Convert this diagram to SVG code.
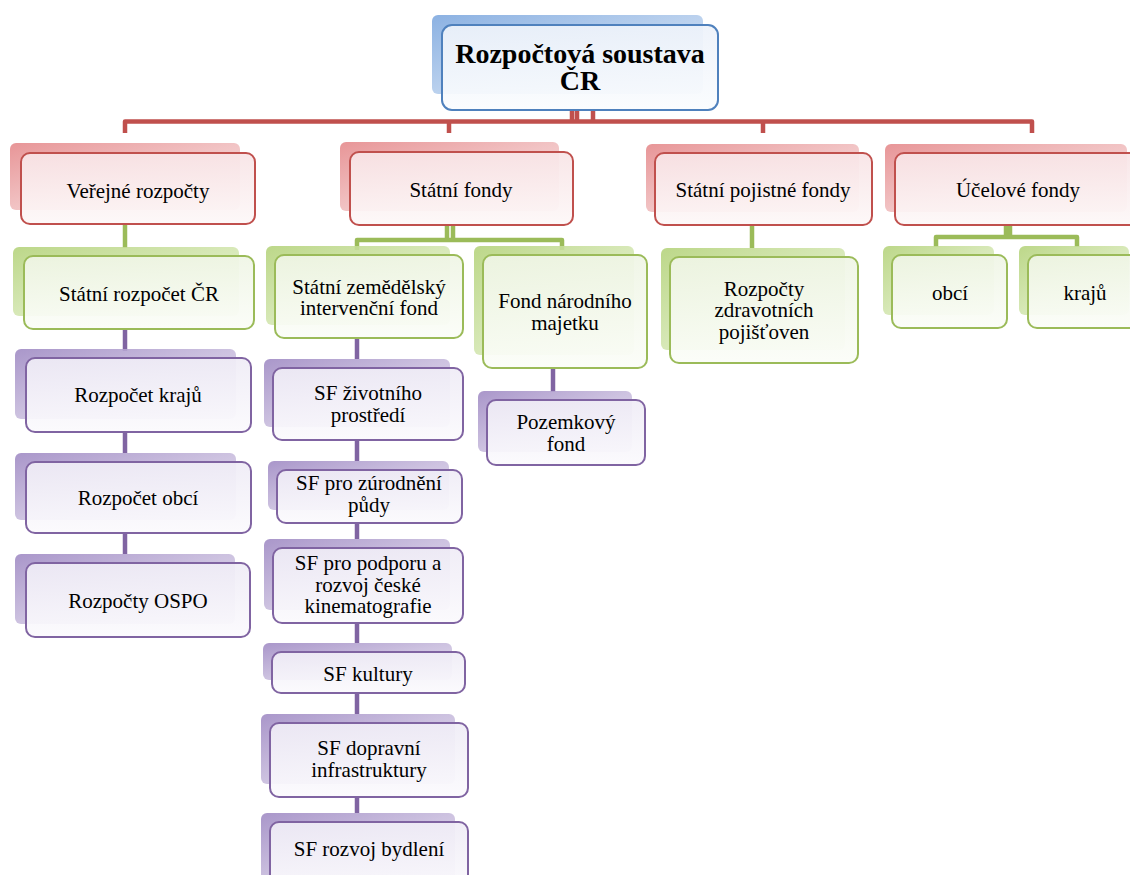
<svg xmlns="http://www.w3.org/2000/svg" width="1130" height="875" viewBox="0 0 1130 875">
<defs>
<linearGradient id="bkR" x1="0" y1="0" x2="1" y2="1"><stop offset="0" stop-color="#E58A8C"/><stop offset="0.5" stop-color="#F0BDBE"/><stop offset="1" stop-color="#F8E0E0"/></linearGradient>
<linearGradient id="bkG" x1="0" y1="0" x2="1" y2="1"><stop offset="0" stop-color="#B5D37C"/><stop offset="0.5" stop-color="#D3E6B0"/><stop offset="1" stop-color="#EAF3DA"/></linearGradient>
<linearGradient id="bkP" x1="0" y1="0" x2="1" y2="1"><stop offset="0" stop-color="#A08BC4"/><stop offset="0.5" stop-color="#C8BCDD"/><stop offset="1" stop-color="#E4DEEF"/></linearGradient>
<linearGradient id="bkB" x1="0" y1="0" x2="1" y2="1"><stop offset="0" stop-color="#7FA9DF"/><stop offset="0.5" stop-color="#B3CCEC"/><stop offset="1" stop-color="#DCE7F5"/></linearGradient>
<linearGradient id="frR" x1="0" y1="0" x2="0" y2="1"><stop offset="0" stop-color="#F8E4E6"/><stop offset="1" stop-color="#FDF8F8"/></linearGradient>
<linearGradient id="frG" x1="0" y1="0" x2="0" y2="1"><stop offset="0" stop-color="#EFF5E5"/><stop offset="1" stop-color="#FBFDF8"/></linearGradient>
<linearGradient id="frP" x1="0" y1="0" x2="0" y2="1"><stop offset="0" stop-color="#EFECF6"/><stop offset="1" stop-color="#FBFAFD"/></linearGradient>
<linearGradient id="frB" x1="0" y1="0" x2="0" y2="1"><stop offset="0" stop-color="#EDF2FA"/><stop offset="1" stop-color="#FAFCFE"/></linearGradient>
</defs>
<style>
.bk{opacity:0.9}
.r .bk{fill:url(#bkR)} .g .bk{fill:url(#bkG)} .p .bk{fill:url(#bkP)} .b .bk{fill:url(#bkB)}
.fr{stroke-width:2;fill-opacity:0.93}
.r .fr{fill:url(#frR);stroke:#C0504D} .g .fr{fill:url(#frG);stroke:#9BBB59} .p .fr{fill:url(#frP);stroke:#8064A2} .b .fr{fill:url(#frB);stroke:#4F81BD}
text{font-family:"Liberation Serif","Times New Roman",serif;font-size:21px;fill:#000;text-anchor:middle}
.title{font-size:28px;font-weight:bold}
.c{fill:none;stroke-width:4.5;stroke-linejoin:round}
.cr{stroke:#C0504D} .cg{stroke:#9BBB59} .cp{stroke:#8064A2}
</style>
<rect width="1130" height="875" fill="#FFFFFF"/>
<g id="connectors">
<path class="c cr" d="M572 110V121.5M577 110V121.5M593 110V121.5M125 133V121.5H1032V133M449 121.5V133M763 121.5V133"/>
<path class="c cg" d="M125 224V248"/>
<path class="c cg" d="M447 225V240M453 225V240M357 250V240H562V250"/>
<path class="c cg" d="M752 225V248"/>
<path class="c cg" d="M1006 225V237M1010 225V237M936 247V237H1077V247"/>
<path class="c cp" d="M125 329V351M125 432V453M125 533V554"/>
<path class="c cp" d="M357 338V359M357 440V461M357 523V539M357 623V643M357 693V714M357 797V813"/>
<path class="c cp" d="M553 368V392"/>
</g>
<g id="n-top" class="b"><rect class="bk" x="432" y="15" width="271" height="79" rx="6"/><rect class="fr" x="442" y="25" width="276" height="85" rx="10"/><text class="title" x="580" y="63">Rozpočtová soustava<tspan x="580" y="90">ČR</tspan></text></g>
<g id="n-verejne" class="r"><rect class="bk" x="10" y="143" width="230" height="67" rx="6"/><rect class="fr" x="21" y="153" width="234" height="71" rx="9"/><text x="138" y="198">Veřejné rozpočty</text></g>
<g id="n-statni-fondy" class="r"><rect class="bk" x="340" y="142" width="219" height="69" rx="6"/><rect class="fr" x="350" y="152" width="223" height="73" rx="9"/><text x="461" y="197">Státní fondy</text></g>
<g id="n-pojistne" class="r"><rect class="bk" x="646" y="144" width="213" height="68" rx="6"/><rect class="fr" x="655" y="153" width="217" height="72" rx="9"/><text x="763" y="197">Státní pojistné fondy</text></g>
<g id="n-ucelove" class="r"><rect class="bk" x="885" y="144" width="242" height="68" rx="6"/><rect class="fr" x="895" y="153" width="246" height="72" rx="9"/><text x="1018" y="197">Účelové fondy</text></g>
<g id="n-sr" class="g"><rect class="bk" x="13" y="247" width="226" height="69" rx="6"/><rect class="fr" x="24" y="256" width="230" height="73" rx="9"/><text x="139" y="301">Státní rozpočet ČR</text></g>
<g id="n-kraje" class="p"><rect class="bk" x="15" y="349" width="221" height="70" rx="6"/><rect class="fr" x="26" y="358" width="225" height="74" rx="9"/><text x="138" y="402">Rozpočet krajů</text></g>
<g id="n-obce" class="p"><rect class="bk" x="15" y="453" width="221" height="67" rx="6"/><rect class="fr" x="26" y="462" width="225" height="71" rx="9"/><text x="138" y="505">Rozpočet obcí</text></g>
<g id="n-ospo" class="p"><rect class="bk" x="15" y="554" width="220" height="70" rx="6"/><rect class="fr" x="26" y="563" width="224" height="74" rx="9"/><text x="138" y="608">Rozpočty OSPO</text></g>
<g id="n-szif" class="g"><rect class="bk" x="266" y="246" width="184" height="79" rx="6"/><rect class="fr" x="275" y="255" width="188" height="83" rx="9"/><text x="369" y="294">Státní zemědělský<tspan x="369" y="315">intervenční fond</tspan></text></g>
<g id="n-fnm" class="g"><rect class="bk" x="474" y="246" width="160" height="109" rx="6"/><rect class="fr" x="483" y="255" width="164" height="113" rx="9"/><text x="565" y="308">Fond národního<tspan x="565" y="330">majetku</tspan></text></g>
<g id="n-pozemkovy" class="p"><rect class="bk" x="478" y="391" width="154" height="61" rx="6"/><rect class="fr" x="487" y="400" width="158" height="65" rx="9"/><text x="566" y="429">Pozemkový<tspan x="566" y="451">fond</tspan></text></g>
<g id="n-zivotni" class="p"><rect class="bk" x="264" y="359" width="186" height="68" rx="6"/><rect class="fr" x="273" y="368" width="190" height="72" rx="9"/><text x="368" y="400">SF životního<tspan x="368" y="422">prostředí</tspan></text></g>
<g id="n-zurodneni" class="p"><rect class="bk" x="268" y="461" width="181" height="49" rx="6"/><rect class="fr" x="277" y="470" width="185" height="53" rx="9"/><text x="369" y="490">SF pro zúrodnění<tspan x="369" y="512">půdy</tspan></text></g>
<g id="n-kinematografie" class="p"><rect class="bk" x="264" y="539" width="186" height="71" rx="6"/><rect class="fr" x="273" y="548" width="190" height="75" rx="9"/><text x="368" y="570">SF pro podporu a<tspan x="368" y="592">rozvoj české</tspan><tspan x="368" y="613">kinematografie</tspan></text></g>
<g id="n-kultury" class="p"><rect class="bk" x="263" y="643" width="189" height="37" rx="6"/><rect class="fr" x="272" y="652" width="193" height="41" rx="9"/><text x="368" y="681">SF kultury</text></g>
<g id="n-doprava" class="p"><rect class="bk" x="261" y="714" width="194" height="70" rx="6"/><rect class="fr" x="270" y="723" width="198" height="74" rx="9"/><text x="369" y="755">SF dopravní<tspan x="369" y="777">infrastruktury</tspan></text></g>
<g id="n-bydleni" class="p"><rect class="bk" x="261" y="813" width="194" height="70" rx="6"/><rect class="fr" x="270" y="822" width="198" height="70" rx="9"/><text x="369" y="856">SF rozvoj bydlení</text></g>
<g id="n-zdravotni" class="g"><rect class="bk" x="661" y="248" width="184" height="102" rx="6"/><rect class="fr" x="670" y="257" width="188" height="106" rx="9"/><text x="764" y="296">Rozpočty<tspan x="764" y="317">zdravotních</tspan><tspan x="764" y="339">pojišťoven</tspan></text></g>
<g id="n-obci" class="g"><rect class="bk" x="883" y="246" width="111" height="69" rx="6"/><rect class="fr" x="892" y="255" width="115" height="73" rx="9"/><text x="950" y="300">obcí</text></g>
<g id="n-kraju" class="g"><rect class="bk" x="1019" y="246" width="110" height="69" rx="6"/><rect class="fr" x="1028" y="255" width="114" height="73" rx="9"/><text x="1085" y="300">krajů</text></g>
</svg>
